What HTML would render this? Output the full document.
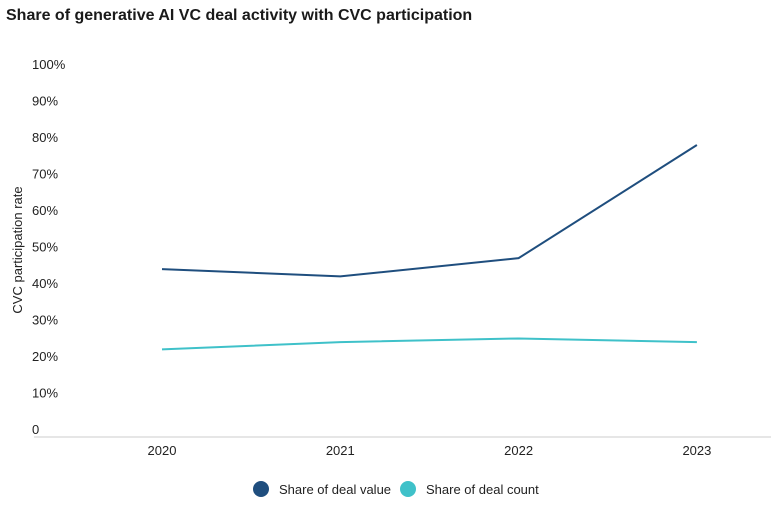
<!DOCTYPE html>
<html><head><meta charset="utf-8"><style>
body{margin:0;background:#fff;width:771px;height:507px;overflow:hidden;font-family:"Liberation Sans",sans-serif;}
</style></head><body>
<svg id="chart" width="771" height="507" xmlns="http://www.w3.org/2000/svg">
<text x="6" y="20" font-size="16" font-weight="bold" fill="#1a1a1a">Share of generative AI VC deal activity with CVC participation</text>
<text transform="translate(22,250) rotate(-90)" text-anchor="middle" font-size="13" fill="#222">CVC participation rate</text>
<line x1="34" y1="437" x2="771" y2="437" stroke="#ccc" stroke-width="1"/>
<g id="yt"></g><g id="xt"></g><g id="series"></g>
<g>
<circle cx="261" cy="489" r="8" fill="#1f4e7e"/>
<text x="279" y="494" font-size="13" fill="#222">Share of deal value</text>
<circle cx="408" cy="489" r="8" fill="#3fc1c9"/>
<text x="426" y="494" font-size="13" fill="#222">Share of deal count</text>
</g>
</svg>
<script>
const categories=["2020","2021","2022","2023"];
const dealValue=[46,44,49,80];
const dealCount=[24,26,27,26];
const yTicks=[0,10,20,30,40,50,60,70,80,90,100];
const ns="http://www.w3.org/2000/svg";
const x=i=>162+i*178.3;
const y=v=>437-v*3.65;
const yt=document.getElementById('yt');
yTicks.forEach(t=>{
 const e=document.createElementNS(ns,'text');
 e.setAttribute('x',32);e.setAttribute('y',y(t)-3);
 e.setAttribute('font-size','13');e.setAttribute('fill','#222');
 e.textContent=t===0?'0':t+'%';
 
 
 yt.appendChild(e);
});
const xt=document.getElementById('xt');
categories.forEach((c,i)=>{
 const e=document.createElementNS(ns,'text');
 e.setAttribute('x',x(i));e.setAttribute('y',455);
 e.setAttribute('text-anchor','middle');
 e.setAttribute('font-size','13');e.setAttribute('fill','#222');
 e.textContent=c;
 
 
 xt.appendChild(e);
});
const sg=document.getElementById('series');
function line(data,color,name){
 const p=document.createElementNS(ns,'polyline');
 p.setAttribute('points',data.map((v,i)=>x(i)+','+y(v)).join(' '));
 p.setAttribute('fill','none');p.setAttribute('stroke',color);p.setAttribute('stroke-width','2');
 
 
 sg.appendChild(p);
}
line(dealValue,'#1f4e7e','deal-value-line');
line(dealCount,'#3fc1c9','deal-count-line');
</script>
</body></html>
